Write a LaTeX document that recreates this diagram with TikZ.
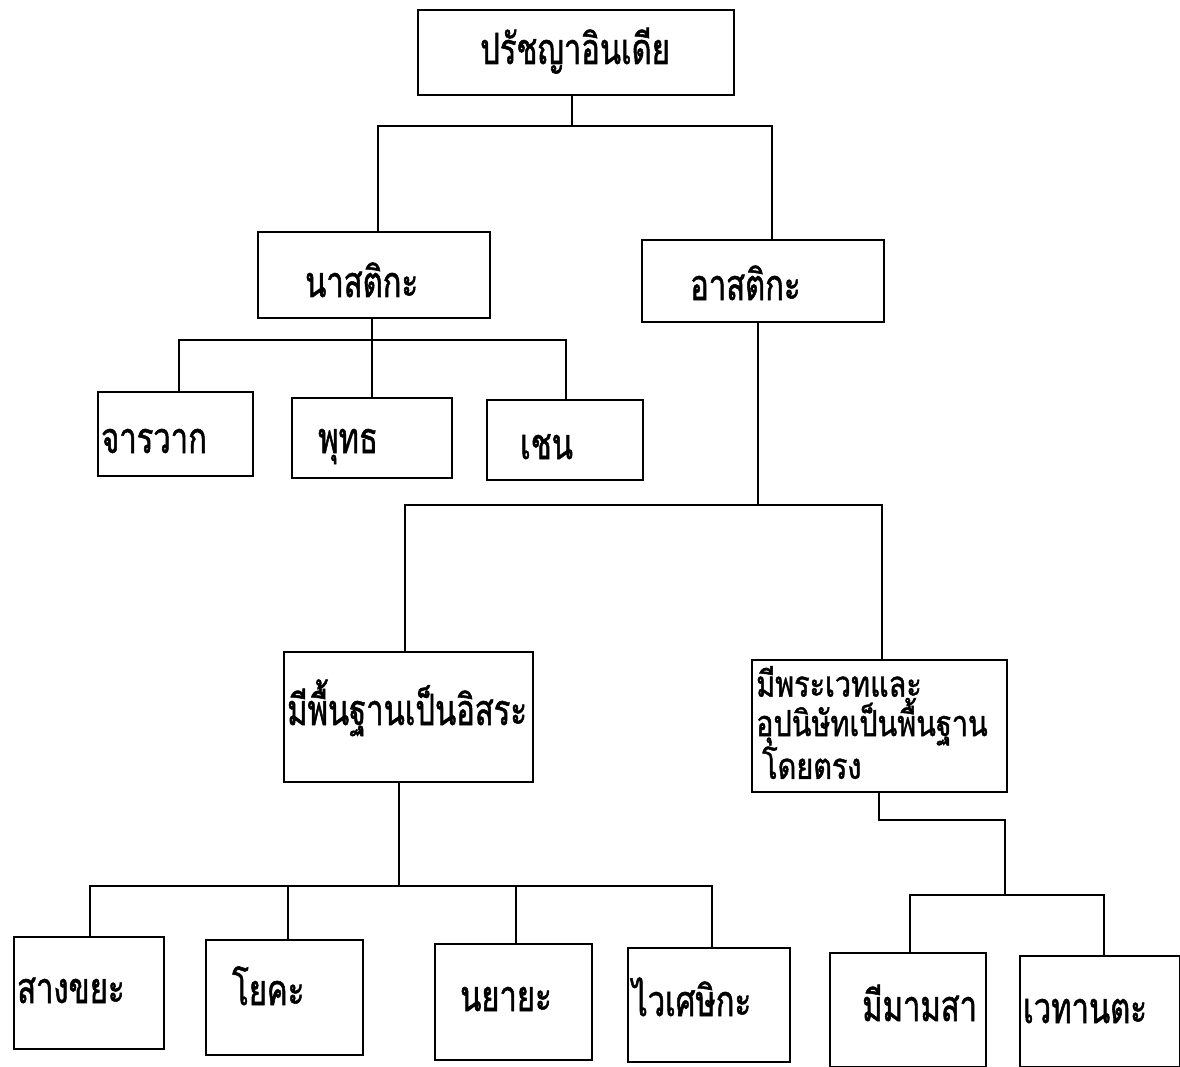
\documentclass[tikz,border=0pt]{standalone}
\usepackage{fontspec}
\newfontfamily\thaifont[Script=Thai,FakeStretch=0.72,FakeBold=1.2]{Loma}
\newfontfamily\thaiwide[Script=Thai,FakeStretch=0.8,FakeBold=1.2]{Loma}
\newcommand\bx[5]{\node[box,minimum width={#4-#2},minimum height={#5-#3}] (#1) at ({(#2+#4)/2},{(#3+#5)/2}) {};}
\begin{document}
\begin{tikzpicture}[x=1pt,y=-1pt,
  box/.style={draw,line width=2.2pt,inner sep=0pt,outer sep=0pt},
  lbl/.style={font=\thaifont\fontsize{43}{33}\selectfont,inner sep=0pt,anchor=base west,align=left},
  conn/.style={line width=2.2pt}]
\useasboundingbox[fill=white] (0,0) rectangle (1180,1067);
% boxes
\bx{top}{418}{10}{734}{95}
\bx{nas}{258}{232}{490}{318}
\bx{ast}{642}{240}{884}{322}
\bx{jar}{98}{392}{253}{476}
\bx{phu}{292}{398}{452}{478}
\bx{che}{487}{400}{643}{480}
\bx{isr}{284}{652}{533}{782}
\bx{ved}{752}{660}{1007}{792}
\bx{san}{14}{937}{164}{1049}
\bx{yog}{206}{940}{363}{1055}
\bx{nya}{435}{944}{592}{1060}
\bx{vai}{628}{948}{790}{1062}
\bx{mim}{830}{953}{986}{1067}
\bx{vdt}{1020}{956}{1180}{1067}
% labels
\node[lbl] (tTop) at (480,64) {ปรัชญาอินเดีย};
\node[lbl] (tNas) at (305,297) {นาสติกะ};
\node[lbl] (tAst) at (690,300) {อาสติกะ};
\node[lbl] (tJar) at (101,453) {จารวาก};
\node[lbl] (tPhu) at (318,453) {พุทธ};
\node[lbl] (tChe) at (520,459) {เชน};
\node[lbl] (tIsr) at (287,725) {มีพื้นฐานเป็นอิสระ};
\node[lbl,anchor=north west,font={\thaiwide\fontsize{36}{35}\selectfont}] (tVed) at (756,666) {มีพระเวทและ\\อุปนิษัทเป็นพื้นฐาน\\\hspace*{6pt}โดยตรง};
\node[lbl] (tSan) at (17,1003) {สางขยะ};
\node[lbl] (tYog) at (232,1005) {โยคะ};
\node[lbl] (tNya) at (460,1011) {นยายะ};
\node[lbl] (tVai) at (632,1016) {ไวเศษิกะ};
\node[lbl] (tMim) at (862,1021) {มีมามสา};
\node[lbl] (tVdt) at (1023,1023) {เวทานตะ};
% junction coordinates
\coordinate (j1) at (572,126);
\coordinate (j2) at (372,340);
\coordinate (j3) at (758,505);
\coordinate (j4) at (399,886);
\coordinate (j5) at (879,820);
\coordinate (j6) at (1005,895);
% connectors
\draw[conn] (top.south -| j1) -- (j1);
\draw[conn] (378,0 |- nas.north) |- (j1) -| (772,0 |- ast.north);
\draw[conn] (nas.south -| j2) -- (j2);
\draw[conn] (179,0 |- jar.north) |- (j2) -| (566,0 |- che.north);
\draw[conn] (j2) -- (phu.north -| j2);
\draw[conn] (ast.south -| j3) -- (j3);
\draw[conn] (405,0 |- isr.north) |- (j3) -| (882,0 |- ved.north);
\draw[conn] (isr.south -| j4) -- (j4);
\draw[conn] (90,0 |- san.north) |- (j4) -| (712,0 |- vai.north);
\draw[conn] (288,0 |- yog.north) -- (288,0 |- j4);
\draw[conn] (516,0 |- nya.north) -- (516,0 |- j4);
\draw[conn] (ved.south -| j5) -- (j5) -| (j6);
\draw[conn] (910,0 |- mim.north) |- (j6) -| (1104,0 |- vdt.north);
\end{tikzpicture}
\end{document}
